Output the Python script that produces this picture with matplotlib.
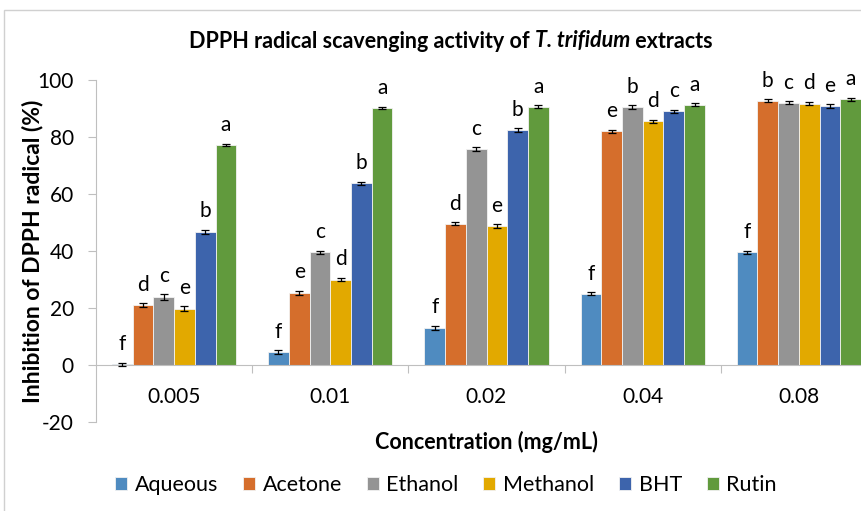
import matplotlib.pyplot as plt
import numpy as np
from matplotlib.patches import Rectangle

plt.rcParams["font.family"] = ["Lato", "DejaVu Sans"]
plt.rcParams["axes.unicode_minus"] = False

concentrations = ["0.005", "0.01", "0.02", "0.04", "0.08"]
series = ["Aqueous", "Acetone", "Ethanol", "Methanol", "BHT", "Rutin"]
colors = ["#4F8BC0", "#D56E2C", "#949494", "#E2A900", "#3D64AC", "#619A3D"]

aqueous = [0.2, 4.5, 13.0, 25.0, 39.6]
acetone = [21.1, 25.4, 49.6, 82.0, 92.8]
ethanol = [23.8, 39.5, 75.8, 90.4, 92.1]
methanol = [19.8, 30.0, 48.7, 85.5, 91.7]
bht = [46.7, 63.8, 82.5, 89.0, 90.9]
rutin = [77.2, 90.2, 90.7, 91.4, 93.3]

aqueous_err = [0.6, 0.6, 0.7, 0.6, 0.5]
acetone_err = [0.6, 0.7, 0.5, 0.6, 0.5]
ethanol_err = [1.0, 0.6, 0.6, 0.7, 0.5]
methanol_err = [0.8, 0.6, 0.6, 0.6, 0.6]
bht_err = [0.8, 0.5, 0.6, 0.6, 0.6]
rutin_err = [0.4, 0.5, 0.5, 0.5, 0.5]

aqueous_sig = ["f", "f", "f", "f", "f"]
acetone_sig = ["d", "e", "d", "e", "b"]
ethanol_sig = ["c", "c", "c", "b", "c"]
methanol_sig = ["e", "d", "e", "d", "d"]
bht_sig = ["b", "b", "b", "c", "e"]
rutin_sig = ["a", "a", "a", "a", "a"]

values = [aqueous, acetone, ethanol, methanol, bht, rutin]
errors = [aqueous_err, acetone_err, ethanol_err, methanol_err, bht_err, rutin_err]
letters = [aqueous_sig, acetone_sig, ethanol_sig, methanol_sig, bht_sig, rutin_sig]

W, H = 862, 511
fig = plt.figure(figsize=(W / 100, H / 100), dpi=100)

# chart frame (cut off at right / bottom like the source)
fig.patches.append(Rectangle((4 / W, -0.2), 2, (H - 10) / H + 0.2, transform=fig.transFigure,
                             fill=False, edgecolor="#D0D0D0", linewidth=1.0))

ax = fig.add_axes([96 / W, (H - 422) / H, (877 - 96) / W, (422 - 80) / H])
ax.set_xlim(0, len(concentrations))
ax.set_ylim(-20, 100)

n = len(series)
w = 0.1327
centers = np.arange(len(concentrations)) + 0.5
for j, (name, vals, errs, sig) in enumerate(zip(series, values, errors, letters)):
    x = centers + (j - (n - 1) / 2) * w
    ax.bar(x, vals, w, color=colors[j], edgecolor="#F2F2F2", linewidth=0.6, label=name, zorder=2)
    ax.errorbar(x, vals, yerr=errs, fmt="none", ecolor="black", elinewidth=0.9,
                capsize=2.6, capthick=0.9, zorder=3)
    for xi, v, e, s in zip(x, vals, errs, sig):
        ax.annotate(s, (xi, v + e), xytext=(0, 9), textcoords="offset points",
                    ha="center", va="baseline", fontsize=15, color="black")

for side in ["top", "right"]:
    ax.spines[side].set_visible(False)
ax.spines["left"].set_color("#BFBFBF")
ax.spines["bottom"].set_color("#BFBFBF")
ax.spines["bottom"].set_position(("data", 0))

ax.set_yticks(np.arange(-20, 101, 20))
ax.tick_params(axis="y", direction="out", length=6, color="#BFBFBF", pad=10,
               labelsize=15, labelcolor="black")

ax.set_xticks(np.arange(1, len(concentrations)))
ax.set_xticklabels([])
ax.tick_params(axis="x", which="major", direction="out", length=6, color="#BFBFBF")
ax.set_xticks(centers, minor=True)
ax.set_xticklabels(concentrations, minor=True)
ax.tick_params(axis="x", which="minor", length=0, pad=16, labelsize=15, labelcolor="black")

fig.text(33 / W, 1 - 251 / H, "Inhibition of DPPH radical (%)", rotation=90,
         ha="center", va="center", fontsize=16.5, fontweight="bold", color="black")
fig.text(486 / W, 1 - 442 / H, "Concentration (mg/mL)", ha="center", va="center",
         fontsize=15.5, fontweight="bold", color="black")

# title with italic species name
parts = [("DPPH radical scavenging activity of ", "normal"), ("T. trifidum", "italic"),
         (" extracts", "normal")]
renderer = fig.canvas.get_renderer()
texts = []
for s, style in parts:
    t = fig.text(0, 1 - 41 / H, s, ha="left", va="center", fontsize=15.5,
                 fontweight="bold", style=style, color="black")
    texts.append(t)
widths = [t.get_window_extent(renderer).width for t in texts]
x0 = 451 - sum(widths) / 2
for t, wd in zip(texts, widths):
    t.set_x(x0 / W)
    x0 += wd

ax.legend(loc="center", bbox_to_anchor=(446 / W, 1 - 485 / H), bbox_transform=fig.transFigure,
          ncol=6, frameon=False, fontsize=15.5, handlelength=0.56, handleheight=0.56,
          handletextpad=0.35, columnspacing=1.15, borderaxespad=0, borderpad=0)

fig.savefig("out.png", dpi=100)
